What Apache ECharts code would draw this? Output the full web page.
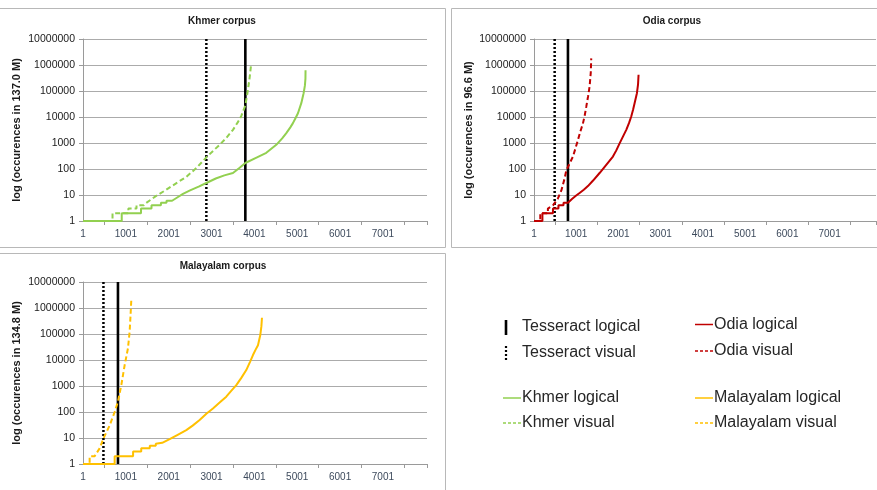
<!DOCTYPE html>
<html><head><meta charset="utf-8">
<script src="https://cdn.jsdelivr.net/npm/echarts@6/dist/echarts.min.js"></script>
<style>html,body{margin:0;padding:0;background:#fff}#c{width:877px;height:490px}</style>
</head><body><div id="c"></div>
<script>
// ---- data ----
const xTickLabels = [1, 1001, 2001, 3001, 4001, 5001, 6001, 7001];
const xTickMarks = [501, 1501, 2501, 3501, 4501, 5501, 6501, 7501];
const yTickLabels = [1, 10, 100, 1000, 10000, 100000, 1000000, 10000000];
const panelTitles = ['Khmer corpus', 'Odia corpus', 'Malayalam corpus'];
const yAxisNames = ['log (occurences in 137.0 M)', 'log (occurences in 96.6 M)', 'log (occurences in 134.8 M)'];
const tesseractLogicalX = [3790, 805, 817];
const tesseractVisualX = [2880, 490, 478];

const khmerLogical = [[1,1],[905,1],[905,2],[1355,2],[1355,3],[1600,3],[1600,4],[1820,4],[1820,5],[1950,5],[1950,6],[2080,6],[2080,7],[2200,8],[2334,11],[2500,15],[2700,21],[2879,29],[3100,43],[3300,57],[3501,70],[3650,110],[3790,170],[4050,275],[4279,420],[4512,850],[4650,1500],[4746,2400],[4840,4000],[4901,5800],[4960,9000],[5018,14000],[5096,34000],[5150,82000],[5180,160000],[5193,300000],[5195,630000]];
const khmerVisual = [[1,1],[690,1],[690,2],[1060,2],[1060,3],[1250,3],[1250,4],[1420,4],[1478,5],[1700,9],[1945,16],[2200,30],[2412,50],[2650,110],[2879,280],[3050,520],[3190,850],[3350,1600],[3501,3200],[3620,6500],[3696,11000],[3790,28000],[3840,85000],[3885,280000],[3928,1150000]];
const odiaLogical = [[1,1],[200,1],[200,2],[450,2],[450,3],[580,3],[580,4],[700,4],[700,5],[805,5],[900,7],[1000,9.5],[1081,12],[1180,16],[1278,22],[1400,36],[1554,70],[1712,145],[1870,300],[1950,520],[2028,970],[2110,1800],[2186,3200],[2250,5800],[2304,10500],[2350,20000],[2383,34000],[2438,82000],[2465,180000],[2477,420000]];
const odiaVisual = [[1,1],[150,1],[150,2],[330,2],[330,3],[450,4],[560,7],[649,15],[720,40],[768,90],[850,170],[923,300],[980,600],[1041,1300],[1100,2800],[1160,5700],[1200,11000],[1239,25000],[1280,60000],[1318,150000],[1345,500000],[1357,1800000]];
const malayalamLogical = [[1,1],[740,1],[740,2],[1170,2],[1170,3],[1360,3],[1360,4],[1560,4],[1560,5],[1700,5],[1700,6],[1850,6.5],[2023,9],[2200,13],[2412,20],[2560,30],[2723,49],[2880,85],[3034,137],[3190,230],[3345,390],[3460,650],[3579,1080],[3700,2100],[3812,4100],[3900,8500],[3968,15500],[4030,25000],[4085,37000],[4139,91000],[4165,200000],[4178,420000]];
const malayalamVisual = [[1,1],[156,1],[156,2],[273,2],[389,4],[483,10],[622,30],[740,100],[817,250],[895,1080],[973,6300],[1050,28000],[1089,120000],[1110,500000],[1128,2000000]];

// ---- styles ----
const colors = ['#92d050', '#c00000', '#ffc000'];
const gridBoxes = [
  {left: 83, top: 39, width: 344, height: 182, max: 8030},
  {left: 534, top: 39, width: 342, height: 182, max: 8100},
  {left: 83, top: 282, width: 344, height: 182, max: 8030}
];
const nameGaps = [61, 60, 61];
const font = 'Liberation Sans, Arial, sans-serif';

const chart = echarts.init(document.getElementById('c'), null, {renderer: 'canvas'});

const grids = gridBoxes.map(g => ({left: g.left, top: g.top, width: g.width, height: g.height, containLabel: false, outerBoundsMode: 'none'}));
const xAxes = gridBoxes.map((g, i) => ({
  type: 'value', gridIndex: i, min: 1, max: g.max, position: 'bottom',
  axisLine: {onZero: false, lineStyle: {color: '#9a9a9a'}},
  axisTick: {show: true, customValues: xTickMarks.concat([g.max]), length: 4, lineStyle: {color: '#9a9a9a'}},
  axisLabel: {customValues: xTickLabels, fontSize: 10, color: '#3d4a5c', margin: 8, fontFamily: font,
    formatter: v => String(Math.round(v))},
  splitLine: {show: false}
}));
const yAxes = gridBoxes.map((g, i) => ({
  type: 'log', logBase: 10, gridIndex: i, min: 1, max: 10000000, position: 'left',
  axisLine: {show: true, onZero: false, lineStyle: {color: '#9a9a9a'}},
  axisTick: {show: true, length: 4, lineStyle: {color: '#9a9a9a'}},
  splitLine: {show: true, lineStyle: {color: '#ababab', width: 1}},
  axisLabel: {fontSize: 10.5, color: '#1a1a1a', margin: 8, fontFamily: font,
    formatter: v => String(yTickLabels.find(t => Math.abs(t - v) / t < 1e-6) ?? Math.round(v))},
  name: yAxisNames[i], nameLocation: 'middle', nameGap: nameGaps[i],
  nameTextStyle: {fontSize: 11, fontWeight: 'bold', color: '#1a1a1a', fontFamily: font}
}));

const dataSets = [[khmerLogical, khmerVisual], [odiaLogical, odiaVisual], [malayalamLogical, malayalamVisual]];
const langNames = ['Khmer', 'Odia', 'Malayalam'];
const series = [];
dataSets.forEach((pair, i) => {
  series.push({name: 'Tesseract visual', type: 'line', xAxisIndex: i, yAxisIndex: i, symbol: 'none', silent: true,
    data: [[tesseractVisualX[i], 1], [tesseractVisualX[i], 10000000]],
    lineStyle: {color: '#000', width: 2.5, type: [2, 2]}, z: 3});
  series.push({name: 'Tesseract logical', type: 'line', xAxisIndex: i, yAxisIndex: i, symbol: 'none', silent: true,
    data: [[tesseractLogicalX[i], 1], [tesseractLogicalX[i], 10000000]],
    lineStyle: {color: '#000', width: 2.6}, z: 3});
  series.push({name: langNames[i] + ' logical', type: 'line', xAxisIndex: i, yAxisIndex: i, symbol: 'none',
    data: pair[0], lineStyle: {color: colors[i], width: 2}, z: 4});
  series.push({name: langNames[i] + ' visual', type: 'line', xAxisIndex: i, yAxisIndex: i, symbol: 'none',
    data: pair[1], lineStyle: {color: colors[i], width: 2, type: [5, 3]}, z: 4});
});

// frames, titles and legend
const graphics = [];
const frames = [
  {x: -5, y: 8.5, width: 450.5, height: 239},
  {x: 451.5, y: 8.5, width: 440, height: 239},
  {x: -5, y: 253.5, width: 450.5, height: 250}
];
frames.forEach(f => graphics.push({type: 'rect', silent: true, shape: f, style: {fill: 'none', stroke: '#b8b8b8', lineWidth: 1}, z: 0}));
const titlePos = [[222, 21], [672, 21], [223, 266]];
panelTitles.forEach((t, i) => graphics.push({type: 'text', x: titlePos[i][0], y: titlePos[i][1],
  style: {text: t, fontSize: 10, fontWeight: 'bold', fill: '#1a1a1a', font: 'bold 10px ' + font, textAlign: 'center', textVerticalAlign: 'middle'}}));

const legendItems = [
  {text: 'Tesseract logical', kind: 'bar', color: '#000', x: 506, y: 327},
  {text: 'Tesseract visual', kind: 'dots', color: '#000', x: 506, y: 353},
  {text: 'Khmer logical', kind: 'line', color: colors[0], x: 503, y: 398},
  {text: 'Khmer visual', kind: 'dash', color: colors[0], x: 503, y: 423},
  {text: 'Odia logical', kind: 'line', color: colors[1], x: 695, y: 324.5},
  {text: 'Odia visual', kind: 'dash', color: colors[1], x: 695, y: 351},
  {text: 'Malayalam logical', kind: 'line', color: colors[2], x: 695, y: 398},
  {text: 'Malayalam visual', kind: 'dash', color: colors[2], x: 695, y: 423}
];
legendItems.forEach(it => {
  let textX;
  if (it.kind === 'bar' || it.kind === 'dots') {
    graphics.push({type: 'line', silent: true, shape: {x1: it.x, y1: it.y - 7, x2: it.x, y2: it.y + 8},
      style: {stroke: it.color, lineWidth: it.kind === 'bar' ? 2.6 : 2.2, lineDash: it.kind === 'dots' ? [2, 2] : null}});
    textX = it.x + 16;
  } else {
    graphics.push({type: 'line', silent: true, shape: {x1: it.x, y1: it.y, x2: it.x + 18, y2: it.y},
      style: {stroke: it.color, lineWidth: 1.5, lineDash: it.kind === 'dash' ? [3, 2] : null}});
    textX = it.x + 19;
  }
  graphics.push({type: 'text', x: textX, y: it.y, style: {text: it.text, font: '16px ' + font, fill: '#262626', textAlign: 'left', textVerticalAlign: 'middle'}});
});

chart.setOption({
  animation: false,
  backgroundColor: '#fff',
  textStyle: {fontFamily: font},
  grid: grids,
  xAxis: xAxes,
  yAxis: yAxes,
  series: series,
  graphic: {elements: graphics}
});
</script>
</body></html>
